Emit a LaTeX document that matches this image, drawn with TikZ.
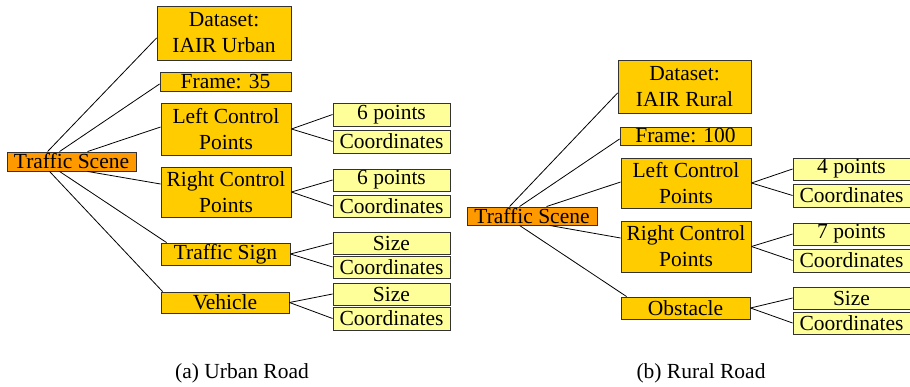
\documentclass[tikz,border=0pt]{standalone}
\usepackage{fontspec}
\setmainfont{Liberation Serif}
\definecolor{rootc}{HTML}{FF9900}
\definecolor{midc}{HTML}{FFCC00}
\definecolor{leafc}{HTML}{FFFF99}
\definecolor{edgec}{HTML}{333333}
\begin{document}
\begin{tikzpicture}[x=1pt,y=-1pt,
  bx/.style={draw=edgec,line width=0.9pt,inner sep=0pt,align=center,
    font=\fontsize{21.5}{26}\selectfont,anchor=center},
  rootbox/.style={bx,fill=rootc},
  midbox/.style={bx,fill=midc},
  leafbox/.style={bx,fill=leafc,minimum width=117pt},
  conn/.style={line width=0.8pt,draw=black},
  captext/.style={font=\fontsize{21.5}{26}\selectfont}]
\useasboundingbox (0,0) rectangle (910,387);
% ---------- left panel ----------
\node[rootbox,minimum width=129pt,minimum height=19pt] (ts) at (71.5,161.5) {Traffic Scene};
\node[midbox,minimum width=134pt,minimum height=54pt] (ds) at (224,33) {Dataset:\\ IAIR Urban};
\node[midbox,minimum width=131pt,minimum height=19pt] (fr) at (225.5,81.5) {Frame: 35};
\node[midbox,minimum width=130pt,minimum height=52pt] (lcp) at (226,129) {Left Control\\Points};
\node[midbox,minimum width=130pt,minimum height=50pt] (rcp) at (226,192) {Right Control\\Points};
\node[midbox,minimum width=129pt,minimum height=22pt] (tsg) at (225.5,254) {Traffic Sign};
\node[midbox,minimum width=128pt,minimum height=21pt] (veh) at (225,302.5) {Vehicle};
\node[leafbox,minimum height=23pt] (a1) at (391.5,114.5) {6 points};
\node[leafbox,minimum height=23pt] (a2) at (391.5,141.5) {Coordinates};
\node[leafbox,minimum height=22pt] (b1) at (391.5,180) {6 points};
\node[leafbox,minimum height=22pt] (b2) at (391.5,206) {Coordinates};
\node[leafbox,minimum height=22pt] (c1) at (391.5,243) {Size};
\node[leafbox,minimum height=22pt] (c2) at (391.5,267) {Coordinates};
\node[leafbox,minimum height=22pt] (d1) at (391.5,294) {Size};
\node[leafbox,minimum height=23pt] (d2) at (391.5,318.5) {Coordinates};
\node[captext] (capa) at (242,373) {(a) Urban Road};
\draw[conn] ([xshift=41pt]ts.north west) -- ([yshift=-5pt]ds.west);
\draw[conn] ([xshift=53pt]ts.north west) -- ([yshift=-2.5pt]fr.west);
\draw[conn] ([xshift=81pt]ts.north west) -- ([yshift=2pt]lcp.west);
\draw[conn] ([xshift=81pt]ts.south west) -- ([yshift=8pt]rcp.west);
\draw[conn] ([xshift=53pt]ts.south west) -- ([xshift=6pt]tsg.north west);
\draw[conn] ([xshift=43pt]ts.south west) -- ([xshift=2pt]veh.north west);
\foreach \p/\u/\v in {lcp/a1/a2,rcp/b1/b2,tsg/c1/c2,veh/d1/d2}{
  \draw[conn] (\p.east) -- (\u.west);
  \draw[conn] (\p.east) -- (\v.west);
}
% ---------- right panel ----------
\node[rootbox,minimum width=130pt,minimum height=18pt] (ts2) at (532,216) {Traffic Scene};
\node[midbox,minimum width=133pt,minimum height=53pt] (ds2) at (684.5,86.5) {Dataset:\\ IAIR Rural};
\node[midbox,minimum width=131pt,minimum height=18pt] (fr2) at (685.5,136) {Frame: 100};
\node[midbox,minimum width=130pt,minimum height=50pt] (lcp2) at (686,183) {Left Control\\Points};
\node[midbox,minimum width=130pt,minimum height=51pt] (rcp2) at (686,246.5) {Right Control\\Points};
\node[midbox,minimum width=129pt,minimum height=22pt] (ob2) at (685.5,308) {Obstacle};
\node[leafbox,minimum height=22pt] (e1) at (851.5,169) {4 points};
\node[leafbox,minimum height=23pt] (e2) at (851.5,195.5) {Coordinates};
\node[leafbox,minimum height=22pt] (f1) at (851.5,234) {7 points};
\node[leafbox,minimum height=23pt] (f2) at (851.5,260.5) {Coordinates};
\node[leafbox,minimum height=22pt] (g1) at (851.5,298) {Size};
\node[leafbox,minimum height=22pt] (g2) at (851.5,323) {Coordinates};
\node[captext] (capb) at (701,373) {(b) Rural Road};
\draw[conn] ([xshift=43pt]ts2.north west) -- ([yshift=-6.5pt]ds2.west);
\draw[conn] ([xshift=53pt]ts2.north west) -- ([yshift=-3pt]fr2.west);
\draw[conn] ([xshift=80pt]ts2.north west) -- ([yshift=1pt]lcp2.west);
\draw[conn] ([xshift=83pt]ts2.south west) -- ([yshift=8.5pt]rcp2.west);
\draw[conn] ([xshift=53pt]ts2.south west) -- ([xshift=6pt]ob2.north west);
\foreach \p/\u/\v in {lcp2/e1/e2,rcp2/f1/f2,ob2/g1/g2}{
  \draw[conn] (\p.east) -- (\u.west);
  \draw[conn] (\p.east) -- (\v.west);
}
\end{tikzpicture}
\end{document}
